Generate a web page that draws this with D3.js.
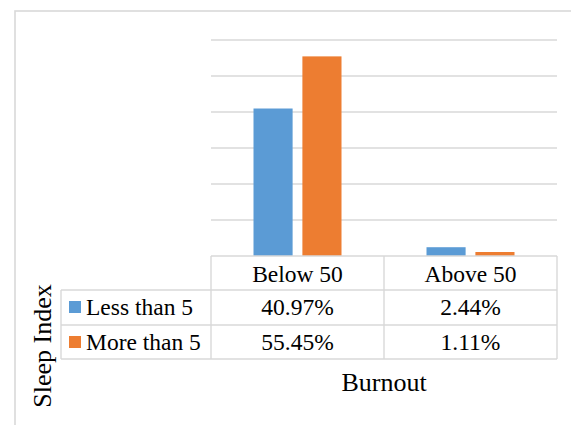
<!DOCTYPE html>
<html>
<head>
    <script src="https://d3js.org/d3.v7.min.js"></script>
    <style>
        body {
            margin: 0;
            background: #fff;
        }
        svg text {
            font-family: 'Liberation Serif', 'Times New Roman', Times, serif;
            fill: #000;
        }
        .grid line {
            stroke: #d9d9d9;
            stroke-width: 1.4px;
        }
        .tbl line {
            stroke: #d9d9d9;
            stroke-width: 1.4px;
        }
    </style>
</head>
<body>
    <script>
        // data
        const categories = ['Below 50', 'Above 50'];
        const seriesNames = ['Less than 5', 'More than 5'];
        const lessThan5 = [40.97, 2.44];
        const moreThan5 = [55.45, 1.11];
        const yTicks = [0, 10, 20, 30, 40, 50, 60];
        const colors = ['#5b9bd5', '#ed7d31'];

        const width = 571,
            height = 425;

        const plotLeft = 211,
            plotRight = 557,
            plotTop = 40,
            plotBottom = 256,
            legendLeft = 61,
            rowLines = [256, 290, 325, 359];

        const series = [lessThan5, moreThan5];

        const svg = d3.select('body').append('svg')
            .attr('width', width)
            .attr('height', height);

        // outer chart frame
        svg.append('rect')
            .attr('x', 15)
            .attr('y', 11)
            .attr('width', 700)
            .attr('height', 600)
            .attr('fill', 'none')
            .attr('stroke', '#d9d9d9')
            .attr('stroke-width', 1.6);

        const x0 = d3.scaleBand()
            .domain(categories)
            .range([plotLeft, plotRight]);

        const pairWidth = 88;
        const x1 = d3.scaleBand()
            .domain(d3.range(series.length))
            .range([0, pairWidth])
            .paddingInner(0.2);

        const y = d3.scaleLinear()
            .domain([0, 60])
            .range([plotBottom, plotTop]);

        // gridlines
        svg.append('g').attr('class', 'grid')
            .selectAll('line')
            .data(yTicks.slice(1))
            .join('line')
            .attr('x1', plotLeft)
            .attr('x2', plotRight)
            .attr('y1', d => y(d))
            .attr('y2', d => y(d));

        // bars
        const groups = svg.append('g')
            .selectAll('g')
            .data(categories)
            .join('g')
            .attr('transform', d => `translate(${x0(d) + (x0.bandwidth() - pairWidth) / 2},0)`);

        groups.selectAll('rect')
            .data((c, ci) => series.map((s, si) => ({ si, v: s[ci] })))
            .join('rect')
            .attr('x', d => x1(d.si))
            .attr('width', x1.bandwidth())
            .attr('y', d => y(d.v))
            .attr('height', d => y(0) - y(d.v))
            .attr('fill', d => colors[d.si]);

        // data table
        const tbl = svg.append('g').attr('class', 'tbl');

        tbl.append('line')
            .attr('x1', plotLeft).attr('x2', plotRight)
            .attr('y1', rowLines[0]).attr('y2', rowLines[0]);

        rowLines.slice(1).forEach(yy => {
            tbl.append('line')
                .attr('x1', legendLeft).attr('x2', plotRight)
                .attr('y1', yy).attr('y2', yy);
        });

        tbl.append('line')
            .attr('x1', legendLeft).attr('x2', legendLeft)
            .attr('y1', rowLines[1]).attr('y2', rowLines[3]);

        [plotLeft, x0(categories[1]), plotRight].forEach(xx => {
            tbl.append('line')
                .attr('x1', xx).attr('x2', xx)
                .attr('y1', rowLines[0]).attr('y2', rowLines[3]);
        });

        const fs = 23.5;

        // header row
        svg.append('g')
            .selectAll('text')
            .data(categories)
            .join('text')
            .attr('x', d => x0(d) + x0.bandwidth() / 2)
            .attr('y', 282)
            .attr('text-anchor', 'middle')
            .style('font-size', fs + 'px')
            .text(d => d);

        const rowBase = [315, 350];

        series.forEach((s, si) => {
            svg.append('g')
                .selectAll('text')
                .data(categories)
                .join('text')
                .attr('x', d => x0(d) + x0.bandwidth() / 2)
                .attr('y', rowBase[si])
                .attr('text-anchor', 'middle')
                .style('font-size', fs + 'px')
                .text((d, i) => s[i].toFixed(2) + '%');

            svg.append('rect')
                .attr('x', 69)
                .attr('y', rowBase[si] - 14)
                .attr('width', 12)
                .attr('height', 12)
                .attr('fill', colors[si]);

            svg.append('text')
                .attr('x', 86)
                .attr('y', rowBase[si])
                .style('font-size', fs + 'px')
                .text(seriesNames[si]);
        });

        // axis titles
        svg.append('text')
            .attr('x', 384)
            .attr('y', 391)
            .attr('text-anchor', 'middle')
            .style('font-size', '26px')
            .text('Burnout');

        svg.append('text')
            .attr('transform', 'translate(51,346) rotate(-90)')
            .attr('text-anchor', 'middle')
            .style('font-size', '26px')
            .text('Sleep Index');
    </script>
</body>
</html>
